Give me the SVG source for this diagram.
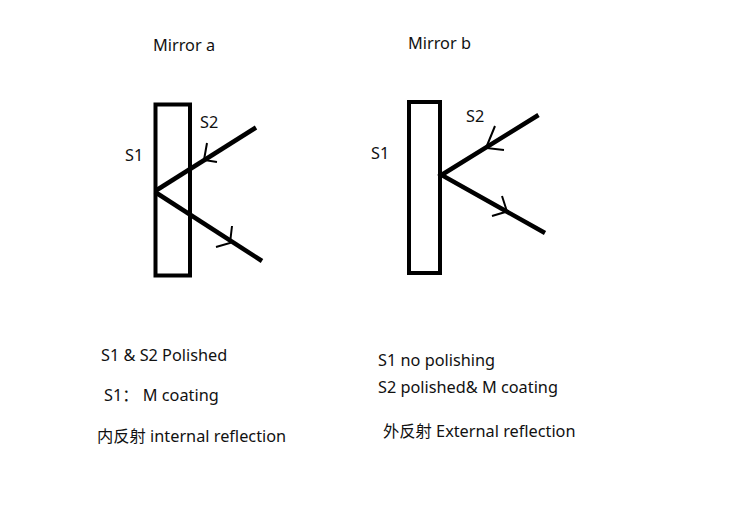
<svg xmlns="http://www.w3.org/2000/svg" width="750" height="530" viewBox="0 0 750 530">
<style>
text{font-family:"Noto Sans","Noto Sans CJK SC",sans-serif;font-size:16.3px;fill:#111}
.mirror{fill:none;stroke:#000;stroke-width:4}
.ray{fill:none;stroke:#000;stroke-width:4.5;stroke-linecap:butt}
.arr{fill:none;stroke:#000;stroke-width:2}
</style>
<rect width="750" height="530" fill="#fff"/>
<g id="mirror-a">
<rect class="mirror" x="155.5" y="104.5" width="34.5" height="171"/>
<text x="153" y="51">Mirror a</text>
<text x="125" y="161">S1</text>
<text x="200" y="128">S2</text>
</g>
<g id="mirror-b">
<rect class="mirror" x="409" y="102" width="31" height="171"/>
<text x="408" y="49">Mirror b</text>
<text x="371" y="159">S1</text>
<text x="466" y="122">S2</text>
</g>
<g id="connectors">
<polyline class="ray" points="256,127.5 156,190.5"/>
<line class="ray" x1="155" y1="192" x2="262" y2="261"/>
<polyline class="arr" points="207,143 204,160 217,162"/>
<polyline class="arr" points="232,226 230,243 216,247"/>
<polyline class="ray" points="538.5,115 441.5,175 545,233"/>
<polyline class="arr" points="495,126 486,148 504,150"/>
<polyline class="arr" points="502,196 507,211.5 492,216"/>
</g>
<g id="notes-a">
<text x="101" y="361">S1 &amp; S2 Polished</text>
<text x="104" y="401">S1：  M coating</text>
<text x="97" y="442">内反射 internal reflection</text>
</g>
<g id="notes-b">
<text x="378" y="366">S1 no polishing</text>
<text x="378" y="393">S2 polished&amp; M coating</text>
<text x="383" y="437">外反射 External reflection</text>
</g>
</svg>
